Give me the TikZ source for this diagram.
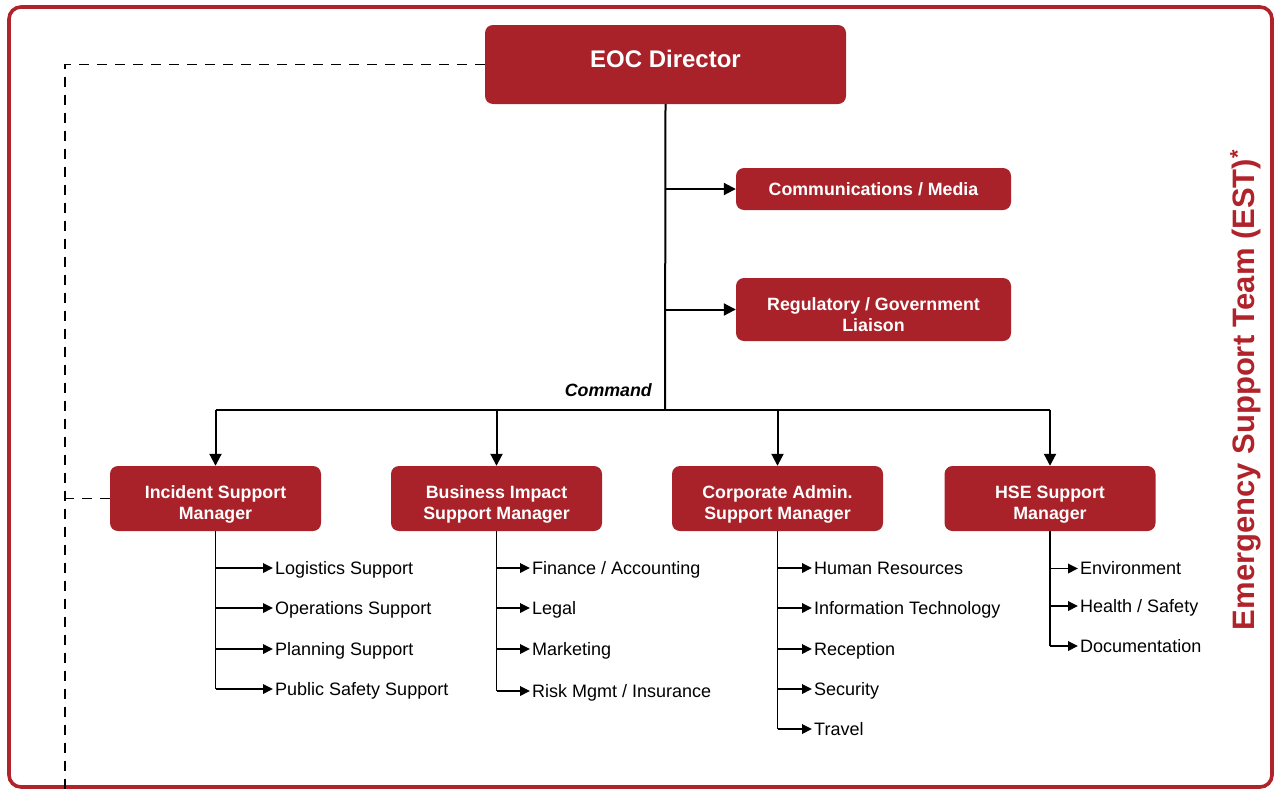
\documentclass[tikz,border=0pt]{standalone}
\usepackage{fontspec}
\setmainfont{Liberation Sans}
\usetikzlibrary{arrows.meta}
\definecolor{estred}{RGB}{169,34,41}
\definecolor{bordred}{RGB}{176,35,43}
\newcommand{\boxtxt}[2]{\raisebox{#1}[\height][\depth]{\begin{tabular}{@{}c@{}}#2\end{tabular}}}
\begin{document}
\begin{tikzpicture}[x=1pt,y=-1pt,
  box/.style={draw=none, fill=estred, rounded corners=8pt, text=white, align=center,
    font=\bfseries\fontsize{17.8}{21.5}\selectfont, inner sep=0pt},
  item/.style={anchor=west, inner xsep=2pt, inner ysep=0pt, text height=12.9pt, text depth=0pt,
    font=\fontsize{18}{20}\selectfont},
  conn/.style={line width=2pt, -{Triangle[length=12pt,width=12pt]}},
  plain/.style={line width=2pt},
  sub/.style={line width=1.8pt, -{Triangle[length=10pt,width=9.5pt]}},
  subline/.style={line width=1.8pt},
  dash line/.style={line width=1.7pt, dash pattern=on 10pt off 8pt}
]
\useasboundingbox (0,0) rectangle (1276,790);
\draw[bordred, line width=3.6pt, rounded corners=12pt] (9,7) rectangle (1272,787);

% top
\node[box, minimum width=361pt, minimum height=79pt, font=\bfseries\fontsize{24}{28}\selectfont] (eoc) at (665.5,64.5) {\boxtxt{3pt}{EOC Director}};
\node[box, minimum width=275pt, minimum height=42pt] (comm) at (873.5,189) {Communications / Media};
\node[box, minimum width=275pt, minimum height=63pt] (reg) at (873.5,309.5) {\boxtxt{-7pt}{Regulatory / Government\\Liaison}};

\coordinate (hub) at (665,410);
\draw[plain] (eoc.south) -- (hub);
\draw[conn] (eoc.south |- comm.west) -- (comm.west);
\draw[conn] (eoc.south |- reg.west) -- (reg.west);
\node[anchor=base east, inner sep=0pt, font=\bfseries\itshape\fontsize{17.8}{20}\selectfont] (cmd) at (652,396) {Command};

% managers
\node[box, minimum width=211pt, minimum height=65pt] (ism) at (215.5,498.5) {\boxtxt{-6pt}{Incident Support\\Manager}};
\node[box, minimum width=211pt, minimum height=65pt] (bis) at (496.5,498.5) {\boxtxt{-6pt}{Business Impact\\Support Manager}};
\node[box, minimum width=211pt, minimum height=65pt] (cas) at (777.5,498.5) {\boxtxt{-6pt}{Corporate Admin.\\Support Manager}};
\node[box, minimum width=211pt, minimum height=65pt] (hse) at (1050,498.5) {\boxtxt{-6pt}{HSE Support\\Manager}};

\draw[plain] (ism.north |- hub) -- (hse.north |- hub);
\draw[conn] (ism.north |- hub) -- (ism.north);
\draw[conn] (bis.north |- hub) -- (bis.north);
\draw[conn] (cas.north |- hub) -- (cas.north);
\draw[conn] (hse.north |- hub) -- (hse.north);

% dashed
\coordinate (dbot) at (65,792);
\draw[dash line] (eoc.west) -| (dbot);
\draw[dash line] (ism.west) -- (ism.west -| dbot);

% Incident items
\node[item] (i1) at (273,568) {Logistics Support};
\node[item] (i2) at (273,608) {Operations Support};
\node[item] (i3) at (273,649) {Planning Support};
\node[item] (i4) at (273,689) {Public Safety Support};
\draw[subline] (ism.south) -- (ism.south |- i4.west);
\foreach \n in {i1,i2,i3,i4} \draw[sub] (ism.south |- \n.west) -- (\n.west);

% Business items
\node[item] (b1) at (530,568) {Finance / Accounting};
\node[item] (b2) at (530,608) {Legal};
\node[item] (b3) at (530,649) {Marketing};
\node[item] (b4) at (530,691) {Risk Mgmt / Insurance};
\draw[subline] (bis.south) -- (bis.south |- b4.west);
\foreach \n in {b1,b2,b3,b4} \draw[sub] (bis.south |- \n.west) -- (\n.west);

% Corporate items
\node[item] (c1) at (812,568) {Human Resources};
\node[item] (c2) at (812,608) {Information Technology};
\node[item] (c3) at (812,649) {Reception};
\node[item] (c4) at (812,689) {Security};
\node[item] (c5) at (812,729) {Travel};
\draw[subline] (cas.south) -- (cas.south |- c5.west);
\foreach \n in {c1,c2,c3,c4,c5} \draw[sub] (cas.south |- \n.west) -- (\n.west);

% HSE items
\node[item] (h1) at (1078,568.5) {Environment};
\node[item] (h2) at (1078,606) {Health / Safety};
\node[item] (h3) at (1078,646) {Documentation};
\draw[subline] (hse.south) -- (hse.south |- h3.west);
\foreach \n in {h1,h2,h3} \draw[sub] (hse.south |- \n.west) -- (\n.west);

% side title
\node[rotate=90, text=bordred, inner sep=0pt, text height=22.2pt, text depth=0pt,
  font=\bfseries\fontsize{31}{34}\selectfont] (est) at (1243,390) {Emergency Support Team (EST)\textsuperscript{*}};
\end{tikzpicture}
\end{document}
